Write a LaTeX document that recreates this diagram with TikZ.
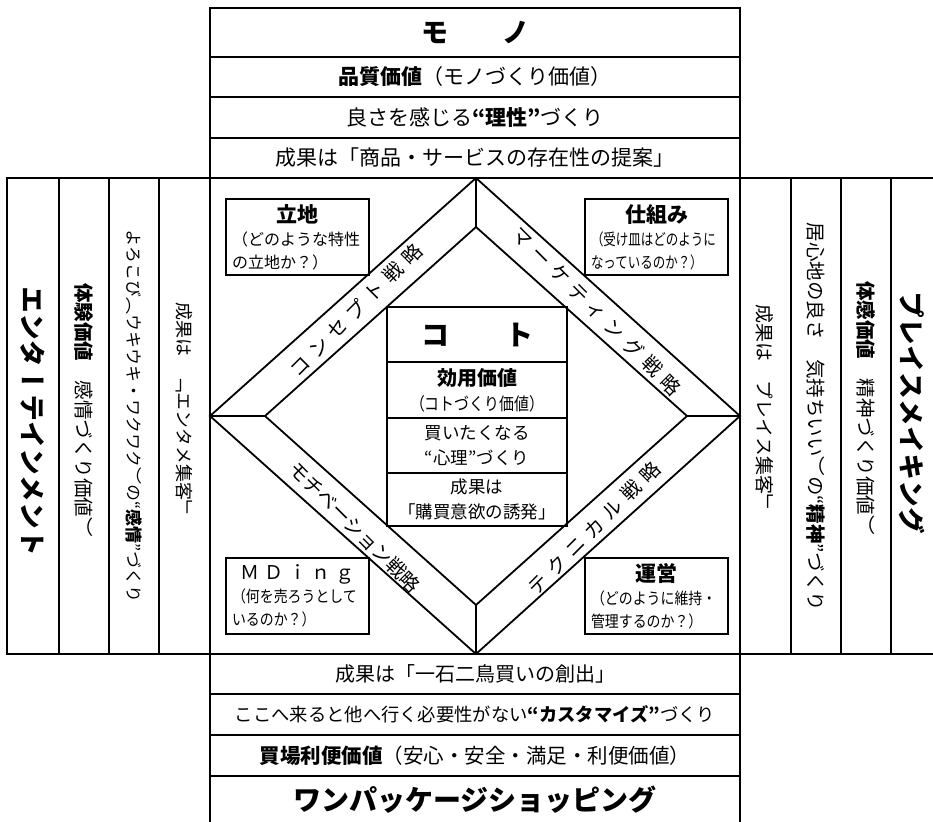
\documentclass[tikz,border=0pt]{standalone}
\usepackage{fontspec}
\setmainfont{Noto Sans CJK JP}
\newfontfamily\tatefont[Vertical=RotatedGlyphs]{Noto Sans CJK JP}
\usetikzlibrary{positioning}

\newcommand{\fs}[1]{\fontsize{#1}{#1}\selectfont}

\tikzset{
  frame/.style={line width=1.8pt},
  cell/.style={draw, frame, inner sep=0pt, outer sep=0pt, minimum width=530pt,
    minimum height=#1, align=center, font=\fontsize{21}{25}\selectfont},
  kcell/.style={draw, frame, inner sep=0pt, outer sep=0pt, minimum width=180pt,
    minimum height=#1, align=center, font=\fontsize{17.5}{25}\selectfont},
  corner/.style={draw, frame, inner sep=0pt, outer sep=0pt, anchor=north west,
    minimum width=143pt, minimum height=76pt, text width=131pt, align=left,
    font=\fontsize{16}{23}\selectfont},
  tate/.style={rotate=-90, inner sep=0pt, font=\tatefont\fs{#1}},
  senryaku/.style={inner sep=0pt, font=\fs{19.5}},
}

\begin{document}
\begin{tikzpicture}[x=1pt, y=-1pt]
\useasboundingbox (0,0) rectangle (933,821);

% mono
\node[cell=49pt, anchor=north west] (mono) at (210,8) {\fs{27}\bfseries モ　　ノ};
\node[cell=40pt, below=0pt of mono] (mono1) {{\bfseries 品質価値}（モノづくり価値）};
\node[cell=41pt, below=0pt of mono1] (mono2) {良さを感じる{\bfseries “理性”}づくり};
\node[cell=40pt, below=0pt of mono2] (mono3) {成果は「商品・サービスの存在性の提案」};

% middle band
\draw[frame] (7,178) rectangle (940,654);
\foreach \x in {59,109,159,210,740,791,841,891}
  \draw[frame] (\x,178) -- (\x,654);

\node[tate=27] (ent) at (33,421) {\bfseries エンターテインメント};
\node[tate=19.5] (taiken) at (84,410) {{\bfseries 体験価値}　感情づくり価値）};
\node[tate=17] (yorokobi) at (134,416) {よろこび（ウキウキ・ワクワク）の“{\bfseries 感情}”づくり};
\node[tate=18] (entame) at (184,410) {成果は　「エンタメ集客」};
\node[tate=19] (plshu) at (765,409) {成果は　プレイス集客」};
\node[tate=19.5] (igokochi) at (816,417) {居心地の良さ　気持ちいい）の“{\bfseries 精神}”づくり};
\node[tate=19.5] (taikan) at (866,408) {{\bfseries 体感価値}　精神づくり価値）};
\node[tate=27] (place) at (912,413) {\bfseries プレイスメイキング};

% diamond
\coordinate (dt) at (476,178);
\coordinate (dr) at (740,416);
\coordinate (db) at (476,654);
\coordinate (dl) at (210,416);
\coordinate (it) at (476,227);
\coordinate (ir) at (687,416);
\coordinate (ib) at (476,605);
\coordinate (il) at (265,416);
\draw[frame] (dt) -- (dr) -- (db) -- (dl) -- cycle;
\draw[frame] (it) -- (ir) -- (ib) -- (il) -- cycle;
\draw[frame] (dt) -- (it) (dr) -- (ir) (db) -- (ib) (dl) -- (il);

\node[senryaku, rotate=45] (concept) at (356,310) {\addfontfeature{LetterSpace=35}コンセプト戦略};
\node[senryaku, rotate=-45] (marketing) at (597,311) {\addfontfeature{LetterSpace=35}マーケティング戦略};
\node[senryaku, rotate=-45] (motiv) at (355,527) {モチベーション戦略};
\node[senryaku, rotate=45] (technical) at (594,528) {\addfontfeature{LetterSpace=35}テクニカル戦略};

% corners
\node[corner] (ritchi) at (226,199)
  {\hfill{\fs{21}\bfseries 立地}\hfill\null\\（どのような特性\\の立地か？）};
\node[corner] (shikumi) at (585,199)
  {\hfill{\fs{21}\bfseries 仕組み}\hfill\null\\\addfontfeature{FakeStretch=0.78}（受け皿はどのように\\なっているのか？）};
\node[corner] (mding) at (226,558)
  {\hfill{\fs{19}\addfontfeature{LetterSpace=25}ＭＤｉｎｇ}\hfill\null\\\addfontfeature{FakeStretch=0.87}（何を売ろうとして\\いるのか？）};
\node[corner] (unei) at (585,558)
  {\hfill{\fs{21}\bfseries 運営}\hfill\null\\\addfontfeature{FakeStretch=0.87}（どのように維持・\\管理するのか？）};

% koto
\node[kcell=55pt, anchor=north west] (koto) at (387,307) {\fs{28}\bfseries コ　　ト};
\node[kcell=56pt, below=0pt of koto] (koto1)
  {{\fs{20}\bfseries 効用価値}\\{\addfontfeature{FakeStretch=0.85}（コトづくり価値）}};
\node[kcell=55pt, below=0pt of koto1] (koto2) {買いたくなる\\“心理”づくり};
\node[kcell=53pt, below=0pt of koto2] (koto3) {成果は\\「購買意欲の誘発」};

% one package
\node[cell=40pt, anchor=north west] (one1) at (210,654) {\fs{20}成果は「一石二鳥買いの創出」};
\node[cell=41pt, below=0pt of one1] (one2)
  {\fs{18.3}ここへ来ると他へ行く必要性がない{\bfseries “カスタマイズ”}づくり};
\node[cell=41pt, below=0pt of one2] (one3) {\fs{20.5}{\bfseries 買場利便価値}（安心・安全・満足・利便価値）};
\node[cell=47pt, below=0pt of one3] (one) {\fs{28}\bfseries ワンパッケージショッピング};
\end{tikzpicture}
\end{document}
